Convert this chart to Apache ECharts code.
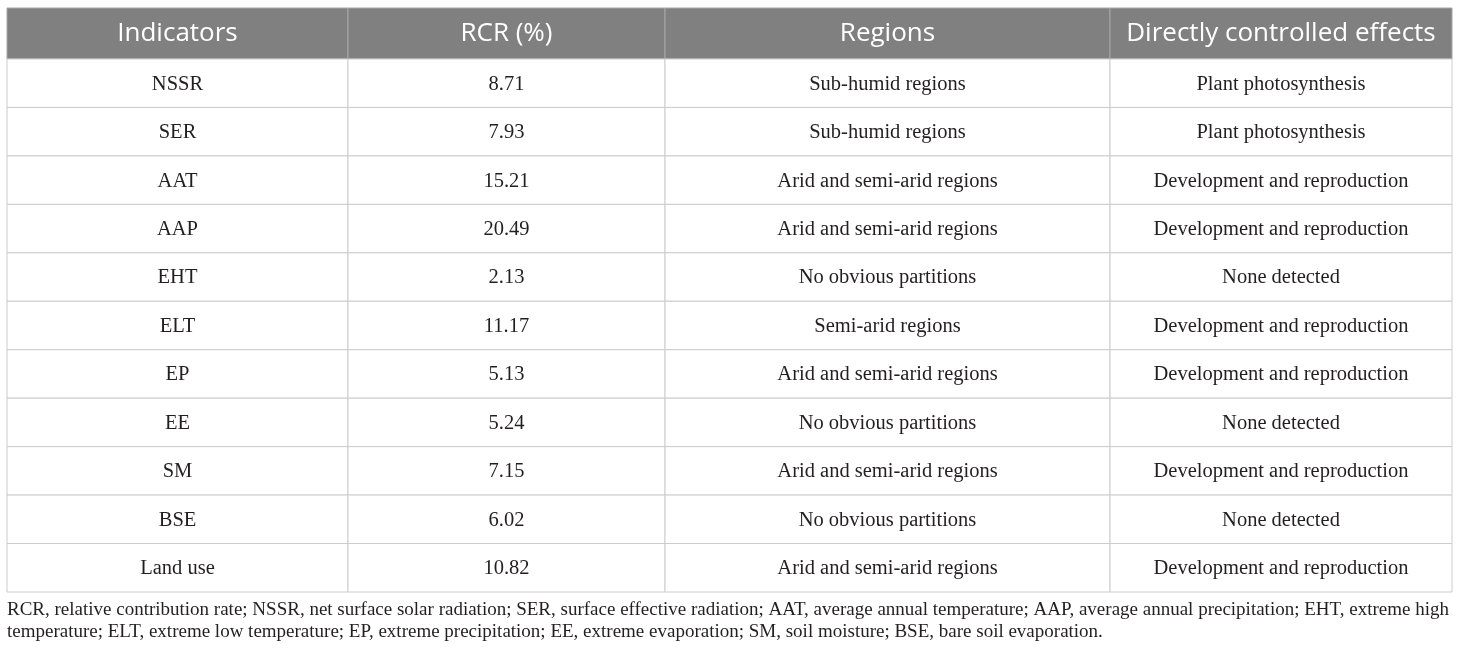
<!DOCTYPE html>
<html>
<head>
<meta charset="utf-8">
<script src="https://cdn.jsdelivr.net/npm/echarts@6/dist/echarts.min.js"></script>
<style>
  html, body { margin: 0; padding: 0; background: #fff; }
  #graph { width: 1460px; height: 653px; }
</style>
</head>
<body>
<div id="graph"></div>
<script>
// table content
const headers = ['Indicators', 'RCR (%)', 'Regions', 'Directly controlled effects'];
const indicators = ['NSSR', 'SER', 'AAT', 'AAP', 'EHT', 'ELT', 'EP', 'EE', 'SM', 'BSE', 'Land use'];
const rcr = ['8.71', '7.93', '15.21', '20.49', '2.13', '11.17', '5.13', '5.24', '7.15', '6.02', '10.82'];
const regions = [
  'Sub-humid regions', 'Sub-humid regions', 'Arid and semi-arid regions', 'Arid and semi-arid regions',
  'No obvious partitions', 'Semi-arid regions', 'Arid and semi-arid regions', 'No obvious partitions',
  'Arid and semi-arid regions', 'No obvious partitions', 'Arid and semi-arid regions'
];
const effects = [
  'Plant photosynthesis', 'Plant photosynthesis', 'Development and reproduction', 'Development and reproduction',
  'None detected', 'Development and reproduction', 'Development and reproduction', 'None detected',
  'Development and reproduction', 'None detected', 'Development and reproduction'
];
const footnote = [
  'RCR, relative contribution rate; NSSR, net surface solar radiation; SER, surface effective radiation; AAT, average annual temperature; AAP, average annual precipitation; EHT, extreme high',
  'temperature; ELT, extreme low temperature; EP, extreme precipitation; EE, extreme evaporation; SM, soil moisture; BSE, bare soil evaporation.'
];

// layout (table units on the hidden value axes)
const colEdges = [0, 341, 658, 1103, 1445];
const headerH = 51;
const rowH = (584 - headerH) / indicators.length;
const columns = [indicators, rcr, regions, effects];

const cells = [];
for (let c = 0; c < headers.length; c++) {
  cells.push([c, 0]);
  for (let r = 0; r < indicators.length; r++) cells.push([c, r + 1]);
}

function rowTop(r) { return r === 0 ? 0 : headerH + (r - 1) * rowH; }
function rowBottom(r) { return r === 0 ? headerH : headerH + r * rowH; }

var myChart = echarts.init(document.getElementById('graph'));
myChart.setOption({
  animation: false,
  grid: { left: 7, top: 8, width: 1445, height: 584 },
  xAxis: { type: 'value', min: 0, max: 1445, show: false },
  yAxis: { type: 'value', min: 0, max: 584, inverse: true, show: false },
  series: [{
    type: 'custom',
    coordinateSystem: 'cartesian2d',
    data: cells,
    renderItem: function (params, api) {
      const c = api.value(0);
      const r = api.value(1);
      const p0 = api.coord([colEdges[c], rowTop(r)]);
      const p1 = api.coord([colEdges[c + 1], rowBottom(r)]);
      const isHead = r === 0;
      const text = isHead ? headers[c] : columns[c][r - 1];
      return {
        type: 'group',
        children: [{
          type: 'rect',
          shape: { x: p0[0], y: p0[1], width: p1[0] - p0[0], height: p1[1] - p0[1] },
          style: { fill: isHead ? '#808080' : '#ffffff', stroke: isHead ? '#a6a6a6' : '#cccccc', lineWidth: 1 }
        }, {
          type: 'text',
          style: {
            text: text,
            x: (p0[0] + p1[0]) / 2,
            y: (p0[1] + p1[1]) / 2 + (isHead ? 0 : 1),
            align: 'center',
            verticalAlign: 'middle',
            fill: isHead ? '#ffffff' : '#231f20',
            fontFamily: isHead ? '"Open Sans", sans-serif' : '"Liberation Serif", serif',
            fontSize: isHead ? 26 : 20.5
          }
        }]
      };
    }
  }],
  graphic: footnote.map((line, i) => ({
    type: 'text',
    left: 7,
    top: 601 + i * 22,
    style: {
      text: line,
      fill: '#231f20',
      font: '19px "Liberation Serif", serif'
    }
  }))
});
</script>
</body>
</html>
